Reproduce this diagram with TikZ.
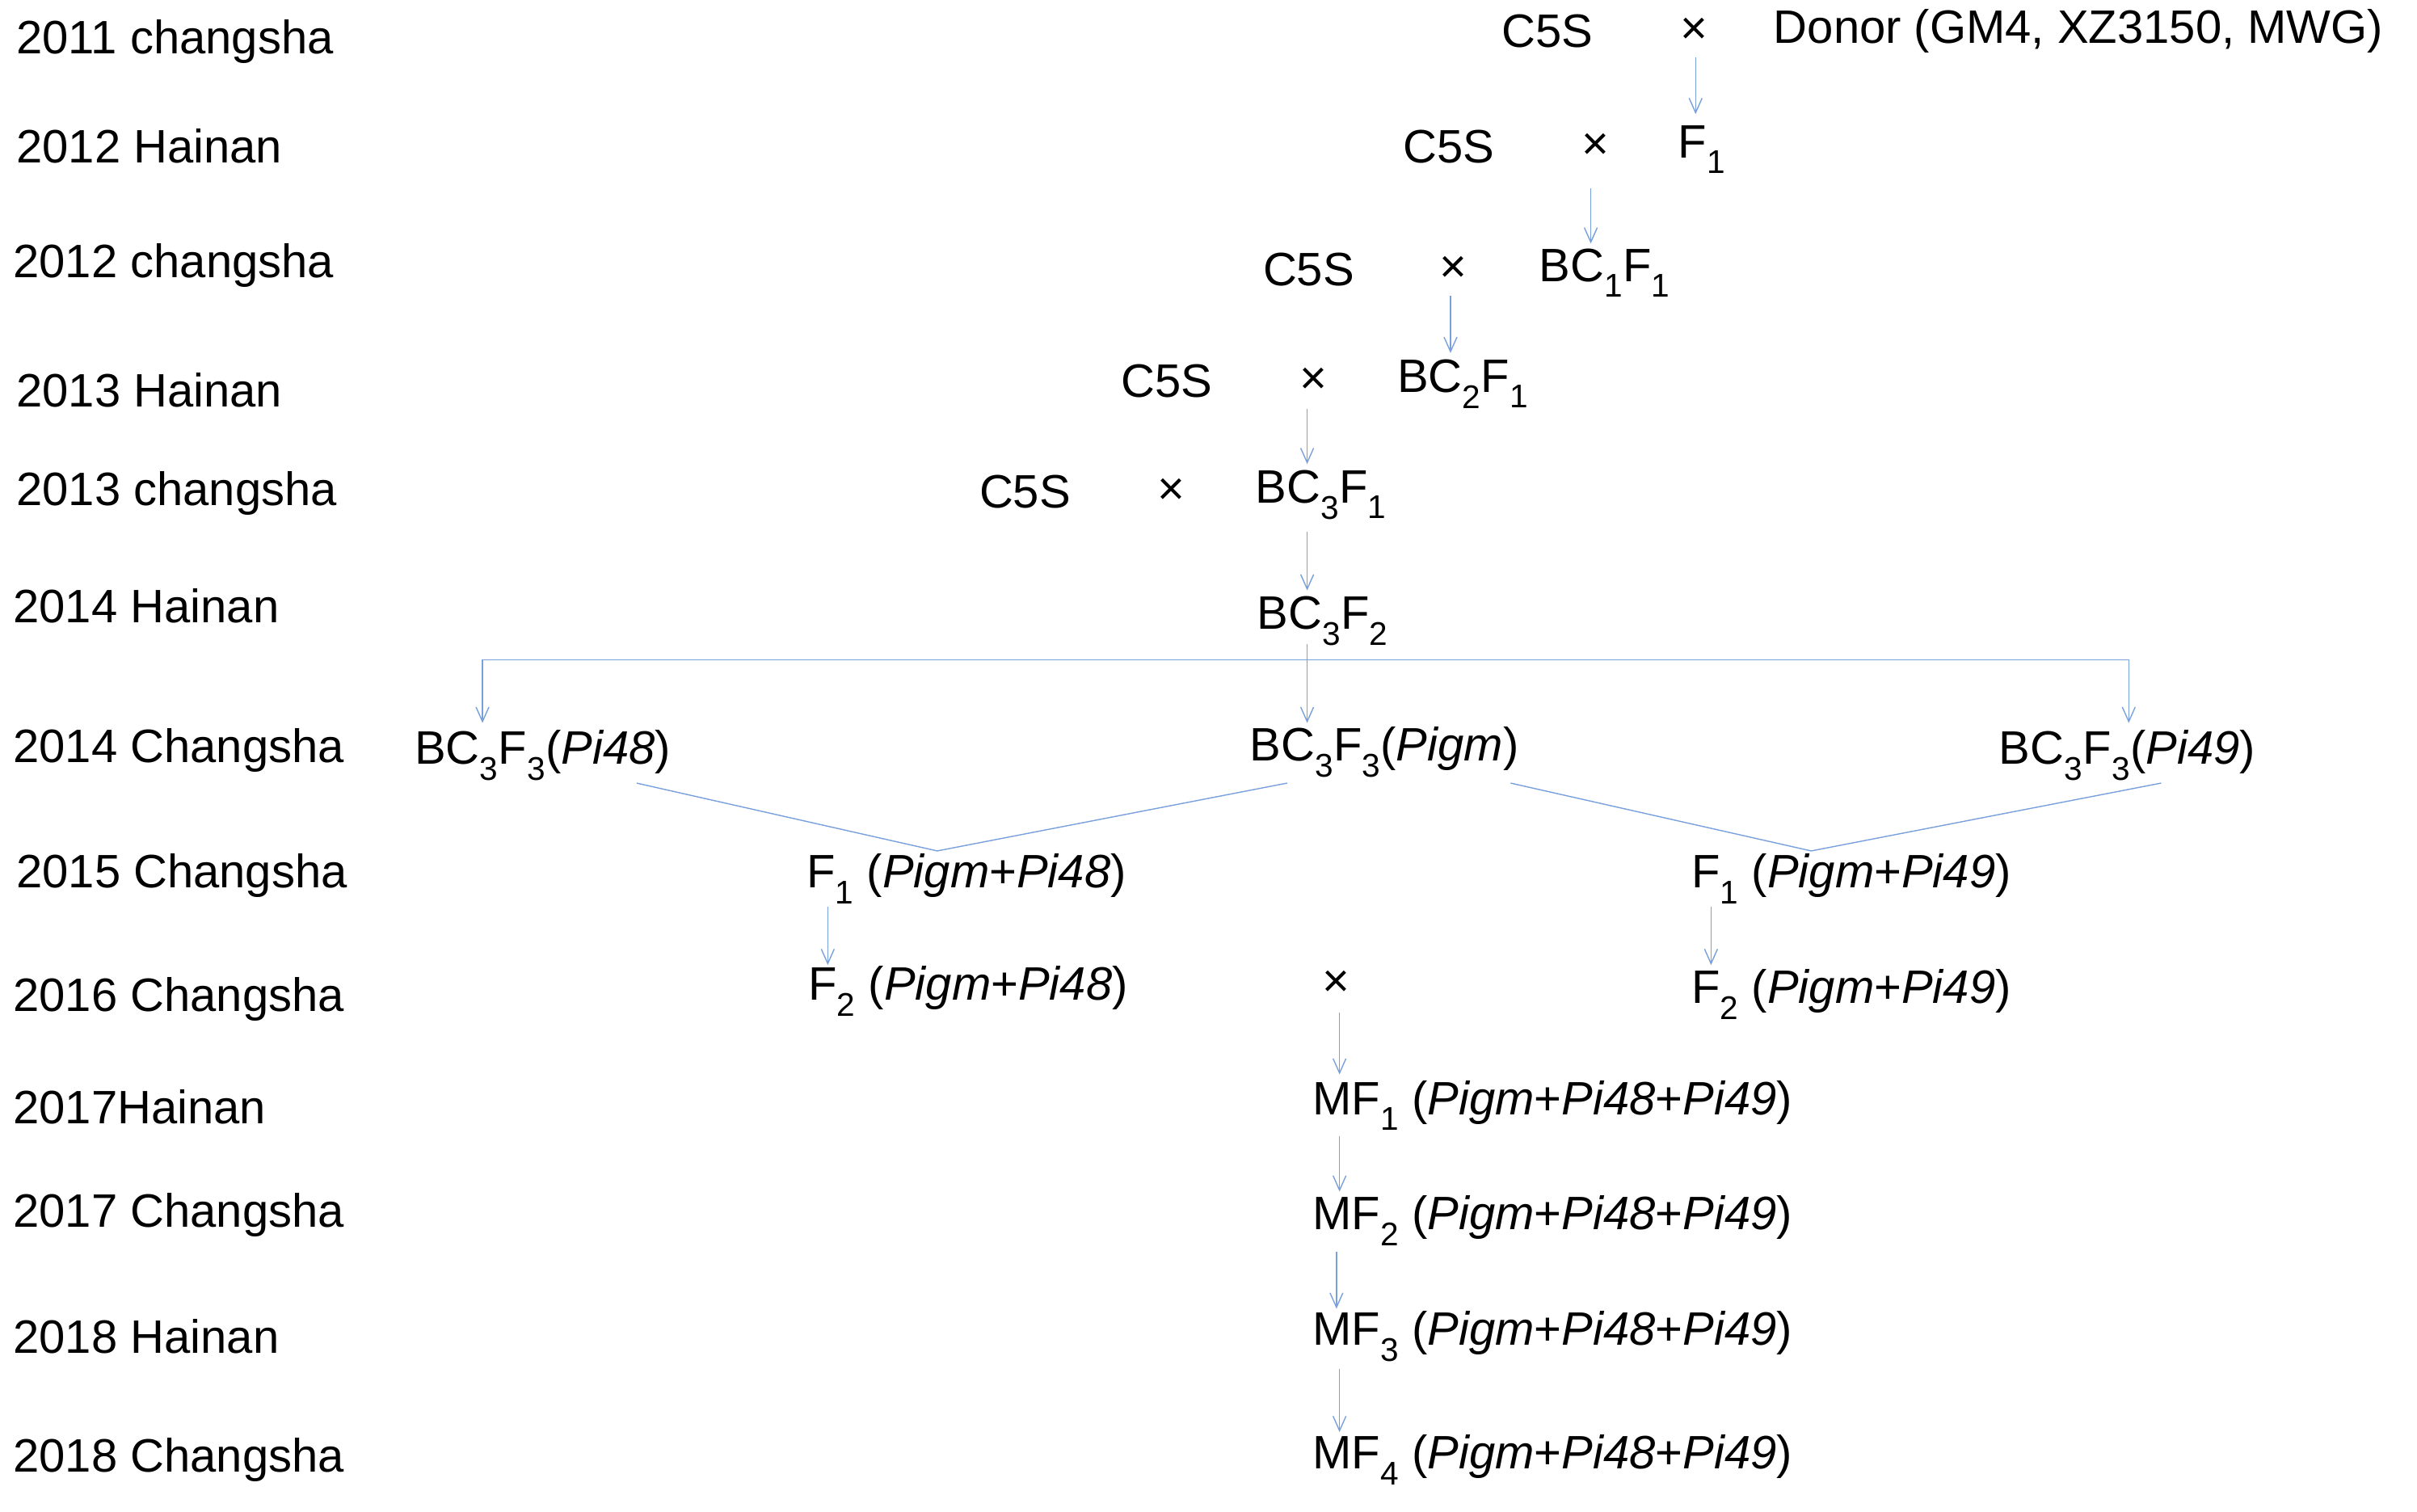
\documentclass[tikz,border=0pt]{standalone}
\usepackage{fontspec}
\setmainfont{Liberation Sans}
\usetikzlibrary{arrows.meta}
\newcommand{\sub}[1]{\textsubscript{#1}}
\begin{document}
\begin{tikzpicture}[x=1.9075pt,y=-1.9075pt,
  every node/.style={inner sep=1pt,font=\fontsize{58}{68}\selectfont},
  lab/.style={anchor=west},
  arr/.style={draw={rgb,255:red,120;green,160;blue,220},line width=1.4pt,-{Straight Barb[length=18pt,width=16pt,line width=1.4pt]}},
  ln/.style={draw={rgb,255:red,120;green,160;blue,220},line width=1.4pt}]
\useasboundingbox (0,0) rectangle (1568,980.4);
% year labels
\node[lab] (y1) at (10,27) {2011 changsha};
\node[lab] (y2) at (10,95) {2012 Hainan};
\node[lab] (y3) at (8,172) {2012 changsha};
\node[lab] (y4) at (10,253) {2013 Hainan};
\node[lab] (y5) at (10,320) {2013 changsha};
\node[lab] (y6) at (8,393) {2014 Hainan};
\node[lab] (y7) at (8,487) {2014 Changsha};
\node[lab] (y8) at (10,568) {2015 Changsha};
\node[lab] (y9) at (8,648) {2016 Changsha};
\node[lab] (y10) at (8,718) {2017Hainan};
\node[lab] (y11) at (8,788) {2017 Changsha};
\node[lab] (y12) at (8,867) {2018 Hainan};
\node[lab] (y13) at (8,947) {2018 Changsha};
% crosses
\node (c1) at (1004,20) {C5S}; \node (x1) at (1099,20) {×};
\node[anchor=west] (d) at (1150,20) {Donor (GM4, XZ3150, MWG)};
\node (c2) at (940,95) {C5S}; \node (x2) at (1035,95) {×};
\node (f1) at (1104,97) {F\sub{1}};
\node (c3) at (849,175) {C5S}; \node (x3) at (943,175) {×};
\node (b1) at (1041,177) {BC\sub{1}F\sub{1}};
\node (c4) at (757,247) {C5S}; \node (x4) at (852,247) {×};
\node (b2) at (949,249) {BC\sub{2}F\sub{1}};
\node (c5) at (665,319) {C5S}; \node (x5) at (760,319) {×};
\node (b3) at (857,321) {BC\sub{3}F\sub{1}};
\node (b32) at (858,403) {BC\sub{3}F\sub{2}};
\node (p48) at (352,490) {BC\sub{3}F\sub{3}(\textit{Pi48})};
\node (pgm) at (898,488) {BC\sub{3}F\sub{3}(\textit{Pigm})};
\node (p49) at (1380,490) {BC\sub{3}F\sub{3}(\textit{Pi49})};
\node (f148) at (627,570) {F\sub{1} (\textit{Pigm}+\textit{Pi48})};
\node (f149) at (1201,570) {F\sub{1} (\textit{Pigm}+\textit{Pi49})};
\node (f248) at (628,643) {F\sub{2} (\textit{Pigm}+\textit{Pi48})};
\node (x6) at (867,638) {×};
\node (f249) at (1201,645) {F\sub{2} (\textit{Pigm}+\textit{Pi49})};
\node[anchor=west] (m1) at (851,717) {MF\sub{1} (\textit{Pigm}+\textit{Pi48}+\textit{Pi49})};
\node[anchor=west] (m2) at (851,792) {MF\sub{2} (\textit{Pigm}+\textit{Pi48}+\textit{Pi49})};
\node[anchor=west] (m3) at (851,867) {MF\sub{3} (\textit{Pigm}+\textit{Pi48}+\textit{Pi49})};
\node[anchor=west] (m4) at (851,947) {MF\sub{4} (\textit{Pigm}+\textit{Pi48}+\textit{Pi49})};
% coordinates
\coordinate (a1s) at (1100,37); \coordinate (a1e) at (1100,74);
\coordinate (a2s) at (1032,122); \coordinate (a2e) at (1032,158);
\coordinate (a3s) at (941,192); \coordinate (a3e) at (941,229);
\coordinate (a4s) at (848,265); \coordinate (a4e) at (848,301);
\coordinate (a5s) at (848,345); \coordinate (a5e) at (848,383);
\coordinate (bl) at (313,428); \coordinate (bm) at (848,428); \coordinate (br) at (1381,428);
\draw[arr] (a1s) -- (a1e);
\draw[arr] (a2s) -- (a2e);
\draw[arr] (a3s) -- (a3e);
\draw[arr] (a4s) -- (a4e);
\draw[arr] (a5s) -- (a5e);
\draw[ln] (bl) -- (br);
\draw[arr] (bl) -- (313,469);
\draw[arr] (848,418) -- (848,469);
\draw[arr] (br) -- (1381,469);
\coordinate (v1) at (608,552); \coordinate (v2) at (1175,552);
\draw[ln] (413,508) -- (v1) -- (835,508);
\draw[ln] (980,508) -- (v2) -- (1402,508);
\draw[arr] (537,588) -- (537,626);
\draw[arr] (1110,588) -- (1110,626);
\draw[arr] (869,657) -- (869,697);
\draw[arr] (869,737) -- (869,773);
\draw[arr] (867,812) -- (867,849);
\draw[arr] (869,888) -- (869,929);
\end{tikzpicture}
\end{document}
